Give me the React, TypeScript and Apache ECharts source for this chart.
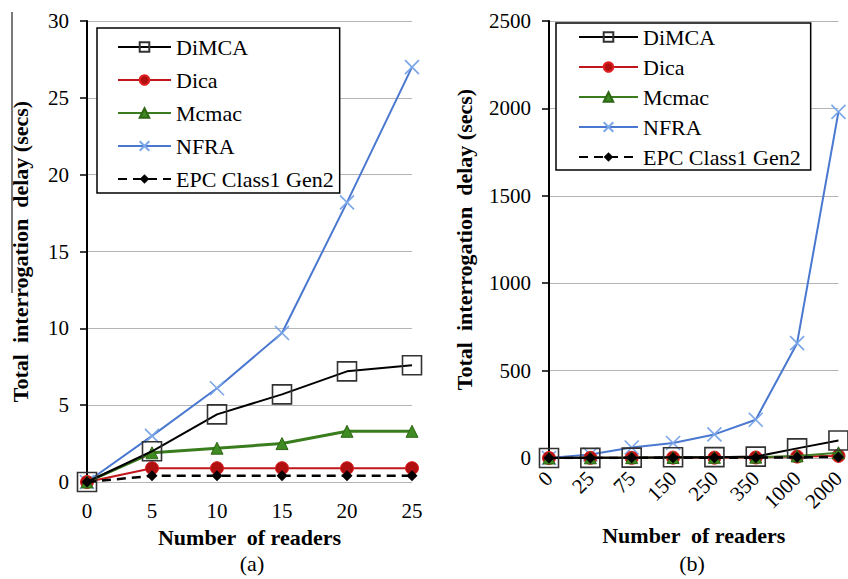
import React, { useEffect, useRef } from "react";
import * as echarts from "echarts";

const catsA = ["0", "5", "10", "15", "20", "25"];
const dimcaA = [0, 2.0, 4.4, 5.7, 7.2, 7.6];
const dicaA = [0, 0.9, 0.9, 0.9, 0.9, 0.9];
const mcmacA = [0, 1.9, 2.2, 2.5, 3.3, 3.3];
const nfraA = [0, 3.0, 6.1, 9.7, 18.2, 27.0];
const epcA = [0, 0.4, 0.4, 0.4, 0.4, 0.4];

const catsB = ["0", "25", "75", "150", "250", "350", "1000", "2000"];
const dimcaB = [0, 1, 2, 4, 5, 8, 55, 100];
const dicaB = [0, 1, 1, 2, 2, 3, 8, 12];
const mcmacB = [0, 1, 2, 3, 4, 5, 12, 30];
const nfraB = [0, 20, 60, 86, 135, 219, 657, 1980];
const epcB = [0, 0, 1, 1, 1, 2, 4, 6];

const seriesNames = ["DiMCA", "Dica", "Mcmac", "NFRA", "EPC Class1 Gen2"];
const yTicksA = { min: 0, max: 30, interval: 5 };
const yTicksB = { min: 0, max: 2500, interval: 500 };

const FONT = "'Liberation Serif', 'DejaVu Serif', Tinos, 'Times New Roman', Times, serif";
const CROSS = "path://M0,0L10,10M10,0L0,10";

function makeSeries(panel: number, values: number[][]) {
  const [dimca, dica, mcmac, nfra, epc] = values;
  const axis = { xAxisIndex: panel, yAxisIndex: panel };
  const thick = panel === 0 ? 3 : 2;
  return [
    {
      ...axis,
      type: "line",
      name: seriesNames[4],
      data: epc,
      z: 6,
      symbol: "diamond",
      symbolSize: 11,
      lineStyle: { color: "#000", width: 2.5, type: [9, 6] },
      itemStyle: { color: "#000" },
    },
    {
      ...axis,
      type: "line",
      name: seriesNames[1],
      data: dica,
      z: 3,
      symbol: "circle",
      symbolSize: 13,
      lineStyle: { color: "#c0161c", width: 2 },
      itemStyle: { color: "#b01010", borderColor: "#e02020", borderWidth: 1 },
    },
    {
      ...axis,
      type: "line",
      name: seriesNames[2],
      data: mcmac,
      z: 4,
      symbol: "triangle",
      symbolSize: 12,
      lineStyle: { color: "#3a7d1e", width: thick },
      itemStyle: { color: "#3f8a22", borderColor: "#2d6614", borderWidth: 1 },
    },
    {
      ...axis,
      type: "line",
      name: seriesNames[3],
      data: nfra,
      z: 2,
      symbol: CROSS,
      symbolSize: 14,
      lineStyle: { color: "#4a78d0", width: 2 },
      itemStyle: { color: "#4a78d0", borderColor: "#7aa6e8", borderWidth: 1.6 },
    },
    {
      ...axis,
      type: "line",
      name: seriesNames[0],
      data: dimca,
      z: 5,
      symbol: "rect",
      symbolSize: 19,
      lineStyle: { color: "#000", width: 2 },
      itemStyle: { color: "rgba(255,255,255,0)", borderColor: "#333", borderWidth: 1.6 },
    },
  ];
}

const axisLabelStyle = { fontFamily: FONT, fontSize: 21, color: "#000" };
const nameStyle = { fontFamily: FONT, fontSize: 22, fontWeight: "bold", color: "#000" };
const plain = (v: number) => String(v);

export default function App() {
  const ref = useRef<HTMLDivElement>(null);
  useEffect(() => {
    if (!ref.current) return;
    const chart = echarts.init(ref.current, undefined, { renderer: "svg" });
    const legendCommon = {
      orient: "vertical",
      selectedMode: false,
      data: seriesNames,
      backgroundColor: "#fff",
      borderColor: "#000",
      borderWidth: 1.5,
      borderRadius: 0,
      textStyle: { fontFamily: FONT, fontSize: 22, color: "#000" },
      itemHeight: 12,
    };
    chart.setOption({
      animation: false,
      backgroundColor: "#fff",
      textStyle: { fontFamily: FONT },
      grid: [
        { left: 87, right: 436, top: 21, bottom: 97 },
        { left: 549, right: 6, top: 21, bottom: 121 },
      ],
      xAxis: [
        {
          gridIndex: 0,
          type: "category",
          data: catsA,
          boundaryGap: false,
          axisLine: { show: false },
          axisTick: { show: false },
          axisLabel: { ...axisLabelStyle, margin: 18 },
          name: "Number  of readers",
          nameLocation: "middle",
          nameGap: 44,
          nameTextStyle: nameStyle,
        },
        {
          gridIndex: 1,
          type: "category",
          data: catsB,
          boundaryGap: false,
          axisLine: { show: false },
          axisTick: { show: false },
          axisLabel: { ...axisLabelStyle, margin: 17, rotate: 45 },
          name: "Number  of readers",
          nameLocation: "middle",
          nameGap: 66,
          nameTextStyle: nameStyle,
        },
      ],
      yAxis: [
        {
          gridIndex: 0,
          type: "value",
          ...yTicksA,
          axisLine: { show: true, lineStyle: { color: "#000", width: 2 } },
          axisTick: { show: true, length: 7, lineStyle: { color: "#000", width: 1.5 } },
          splitLine: { lineStyle: { color: "#b4b4b4", width: 1.2 } },
          axisLabel: { ...axisLabelStyle, margin: 18, formatter: plain },
          name: "Total  interrogation  delay (secs)",
          nameLocation: "middle",
          nameGap: 56,
          nameTextStyle: nameStyle,
        },
        {
          gridIndex: 1,
          type: "value",
          ...yTicksB,
          axisLine: { show: true, lineStyle: { color: "#000", width: 2 } },
          axisTick: { show: true, length: 7, lineStyle: { color: "#000", width: 1.5 } },
          splitLine: { lineStyle: { color: "#b4b4b4", width: 1.2 } },
          axisLabel: { ...axisLabelStyle, margin: 18, formatter: plain },
          name: "Total  interrogation  delay (secs)",
          nameLocation: "middle",
          nameGap: 74,
          nameTextStyle: nameStyle,
        },
      ],
      legend: [
        {
          ...legendCommon,
          left: 97,
          top: 28,
          itemWidth: 53,
          itemGap: 11,
          padding: [8, 6, 3, 20],
        },
        {
          ...legendCommon,
          left: 556,
          top: 23,
          itemWidth: 59,
          itemGap: 8,
          padding: [3, 10, 2, 22],
        },
      ],
      graphic: [
        {
          type: "line",
          shape: { x1: 12, y1: 12, x2: 12, y2: 293 },
          style: { stroke: "#222", lineWidth: 1.2 },
        },
        {
          type: "text",
          x: 252,
          y: 563,
          style: { text: "(a)", fontFamily: FONT, fontSize: 22, fill: "#000", align: "center", verticalAlign: "middle" },
        },
        {
          type: "text",
          x: 692,
          y: 563,
          style: { text: "(b)", fontFamily: FONT, fontSize: 22, fill: "#000", align: "center", verticalAlign: "middle" },
        },
      ],
      series: [
        ...makeSeries(0, [dimcaA, dicaA, mcmacA, nfraA, epcA]),
        ...makeSeries(1, [dimcaB, dicaB, mcmacB, nfraB, epcB]),
      ],
    });
    return () => chart.dispose();
  }, []);
  return <div ref={ref} style={{ width: 848, height: 579, position: "absolute", left: 0, top: 0 }} />;
}
